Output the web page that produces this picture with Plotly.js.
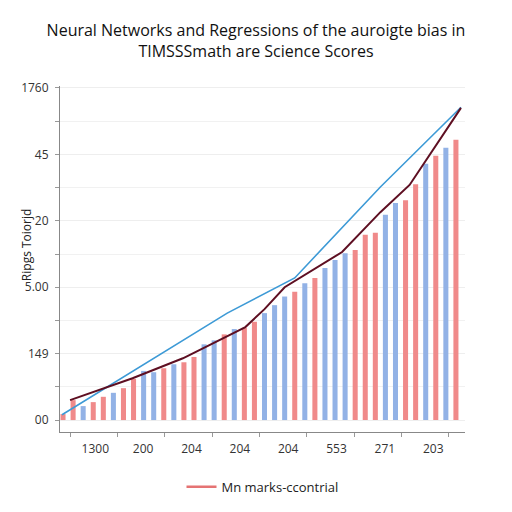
<!DOCTYPE html>
<html>
<head>
<meta charset="utf-8">
<script src="https://cdn.plot.ly/plotly-3.0.1.min.js"></script>
<style>html,body{margin:0;padding:0;background:#fff}#chart{width:512px;height:512px}</style>
</head>
<body>
<div id="chart"></div>
<script>
// Bars: group of each bar ('R' red, 'B' blue) and heights (in y tick units)
var barGroup = ['R','R','B','R','R','B','R','R','B','B',
                'R','B','R','R','B','B','R','B','R','R',
                'B','B','B','R','B','R','B','B','B','R',
                'R','R','B','B','R','R','B','R','B','R'];
var barValue = [0.09,0.30,0.21,0.27,0.35,0.41,0.48,0.62,0.74,0.72,
                0.78,0.84,0.87,0.95,1.14,1.20,1.29,1.37,1.39,1.48,
                1.61,1.73,1.86,1.93,2.06,2.14,2.29,2.41,2.51,2.56,
                2.79,2.82,3.09,3.27,3.31,3.55,3.86,3.98,4.10,4.22];
var barPos = barValue.map(function(_, i){ return i + 1; });

// Light blue regression line
var blueX = [0.9, 17.3, 24.0, 32.5, 40.5];
var blueY = [0.08, 1.61, 2.14, 3.51, 4.71];

// Dark maroon neural network line
var darkX = [1.7, 7.9, 12.9, 19.1, 21.0, 23.0, 28.7, 32.5, 35.4, 36.7, 40.5];
var darkY = [0.30, 0.63, 0.93, 1.40, 1.67, 2.00, 2.53, 3.13, 3.54, 3.84, 4.70];

// Tick labels
var xTickText = ['1300','200','204','204','204','553','271','203'];
var xTickPos  = [4.2, 8.95, 13.75, 18.55, 23.35, 28.15, 32.95, 37.75];
var yTickText = ['00','149','5.00','20','45','1760'];
var yTickPos  = [0, 1, 2, 3, 4, 5];

var yTitle = 'Ripgs Toiorjd';
var legendName = 'Mn marks-ccontrial';

var colorMap = {R: '#f08a8a', B: '#92b2e6'};

var traces = [
  {type:'bar', x: barPos, y: barValue, width: 0.5,
   marker:{color: barGroup.map(function(g){return colorMap[g];}), line:{width:0}},
   showlegend:false, hoverinfo:'skip'},
  {type:'scatter', mode:'lines', x: blueX, y: blueY,
   line:{color:'#3d9ad6', width:1.6}, showlegend:false},
  {type:'scatter', mode:'lines', x: darkX, y: darkY,
   line:{color:'#5e0f22', width:2}, showlegend:false},
  {type:'scatter', mode:'lines', x:[null], y:[null], name: legendName,
   line:{color:'#e57373', width:2.5}, showlegend:true}
];

var layout = {
  width:512, height:512,
  paper_bgcolor:'#fff', plot_bgcolor:'#fff',
  margin:{l:60, r:47, t:86, b:80, autoexpand:false},
  font:{family:'Open Sans, sans-serif', color:'#222'},
  title:{text:'Neural Networks and Regressions of the auroigte bias in<br>TIMSSSmath are Science Scores',
         x:0.5, xanchor:'center', yref:'container', y:0.93, yanchor:'middle', font:{size:16, color:'#111'}},
  xaxis:{range:[0.7, 40.9], tickmode:'array', tickvals:xTickPos, ticktext:xTickText,
         ticks:'', showgrid:false, zeroline:false, showline:true, linecolor:'#888', linewidth:1,
         tickfont:{size:12, color:'#333'}, ticklabelstandoff:6,
         minor:{tickmode:'array', tickvals:[1.7,6.4,11.1,15.8,20.5,25.2,29.9,34.6,39.3],
                ticks:'outside', ticklen:4, tickcolor:'#999', showgrid:false}},
  yaxis:{range:[-0.18, 5.03], tickmode:'array', tickvals:yTickPos, ticktext:yTickText,
         ticks:'outside', ticklen:4, tickcolor:'#999', ticklabelstandoff:4,
         showgrid:true, gridcolor:'#eeeeee', zeroline:false, showline:true, linecolor:'#888', linewidth:1,
         tickfont:{size:12, color:'#333'},
         minor:{dtick:0.5, tick0:0, ticks:'outside', ticklen:4, tickcolor:'#999', showgrid:true, gridcolor:'#f1f1f1'}},
  annotations:[{text: yTitle, xref:'paper', yref:'paper', x:-0.084, y:0.54, xanchor:'center', yanchor:'middle',
                textangle:-90, showarrow:false, font:{size:12, color:'#222'}}],
  legend:{orientation:'h', x:0.5, xanchor:'center', y:-0.115, yanchor:'top', font:{size:13, color:'#222'}},
  bargap:0.5
};

Plotly.newPlot('chart', traces, layout, {displayModeBar:false, staticPlot:true});
</script>
</body>
</html>
